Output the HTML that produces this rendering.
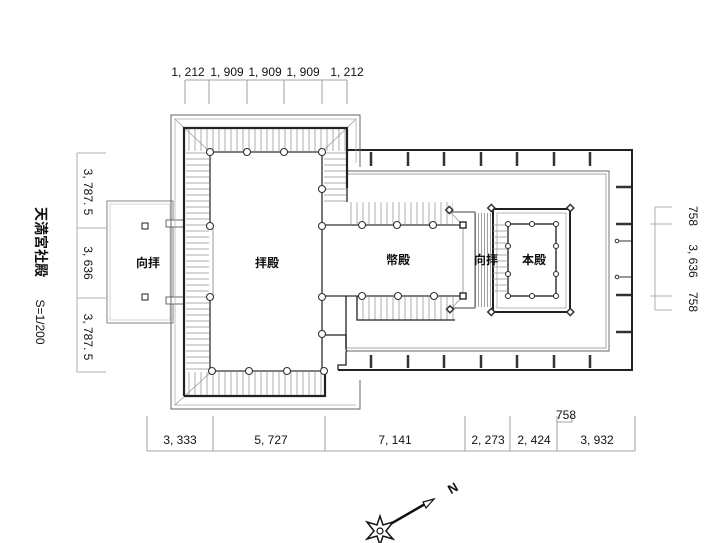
<!DOCTYPE html>
<html><head><meta charset="utf-8"><style>
html,body{margin:0;padding:0;background:#fff;}
svg{display:block;font-family:"Liberation Sans","Noto Sans CJK JP",sans-serif;}
</style></head><body>
<svg width="720" height="543" viewBox="0 0 720 543" xmlns="http://www.w3.org/2000/svg">
<defs>
<pattern id="hv" width="6" height="10" patternUnits="userSpaceOnUse"><line x1="3" y1="0" x2="3" y2="10" stroke="#999" stroke-width="0.8"/></pattern>
<pattern id="hh" width="10" height="6" patternUnits="userSpaceOnUse"><line x1="0" y1="3" x2="10" y2="3" stroke="#999" stroke-width="0.8"/></pattern>
<pattern id="hv2" width="3" height="10" patternUnits="userSpaceOnUse"><line x1="1.5" y1="0" x2="1.5" y2="10" stroke="#777" stroke-width="0.7"/></pattern>
</defs>
<rect width="720" height="543" fill="#fff"/>

<!-- top dimensions -->
<g stroke="#888" stroke-width="0.8" fill="none">
<line x1="185" y1="80" x2="347" y2="80"/>
<line x1="185" y1="80" x2="185" y2="104"/><line x1="209" y1="80" x2="209" y2="104"/>
<line x1="247" y1="80" x2="247" y2="104"/><line x1="284" y1="80" x2="284" y2="104"/>
<line x1="322" y1="80" x2="322" y2="104"/><line x1="347" y1="80" x2="347" y2="104"/>
</g>
<g font-size="12" fill="#111" text-anchor="middle" font-family="'Liberation Sans Narrow','Liberation Sans',sans-serif">
<text x="188" y="76">1, 212</text><text x="227" y="76">1, 909</text><text x="265" y="76">1, 909</text><text x="303" y="76">1, 909</text><text x="347" y="76">1, 212</text>
</g>

<!-- left dims -->
<g stroke="#999" stroke-width="0.8" fill="none">
<line x1="77" y1="153" x2="77" y2="372"/>
<line x1="77" y1="153" x2="106" y2="153"/><line x1="77" y1="228" x2="106" y2="228"/>
<line x1="77" y1="298" x2="106" y2="298"/><line x1="77" y1="372" x2="106" y2="372"/>
</g>
<g font-size="12" fill="#111" text-anchor="middle">
<text transform="translate(84,192) rotate(90)">3, 787. 5</text>
<text transform="translate(84,263) rotate(90)">3, 636</text>
<text transform="translate(84,337) rotate(90)">3, 787. 5</text>
<text transform="translate(36,242) rotate(90)" font-size="14" font-weight="bold">天満宮社殿</text>
<text transform="translate(36,322) rotate(90)" font-size="12">S=1/200</text>
</g>

<!-- right dims -->
<g stroke="#999" stroke-width="0.8" fill="none">
<line x1="655" y1="207" x2="655" y2="310"/>
<line x1="655" y1="207" x2="672" y2="207"/><line x1="650" y1="224" x2="672" y2="224"/>
<line x1="650" y1="296" x2="672" y2="296"/><line x1="655" y1="310" x2="672" y2="310"/>
</g>
<g font-size="12" fill="#111" text-anchor="middle">
<text transform="translate(689,216) rotate(90)">758</text>
<text transform="translate(689,261) rotate(90)">3, 636</text>
<text transform="translate(689,302) rotate(90)">758</text>
</g>

<!-- bottom dims -->
<g stroke="#888" stroke-width="0.8" fill="none">
<line x1="147" y1="451" x2="635" y2="451"/>
<line x1="147" y1="416" x2="147" y2="451"/><line x1="213" y1="416" x2="213" y2="451"/>
<line x1="325" y1="416" x2="325" y2="451"/><line x1="465" y1="416" x2="465" y2="451"/>
<line x1="510" y1="416" x2="510" y2="451"/><line x1="557" y1="416" x2="557" y2="451"/>
<line x1="635" y1="416" x2="635" y2="451"/>
<polyline points="557,422 572,422 572,416"/>
</g>
<g font-size="12" fill="#111" text-anchor="middle">
<text x="180" y="444">3, 333</text><text x="271" y="444">5, 727</text><text x="395" y="444">7, 141</text>
<text x="488" y="444">2, 273</text><text x="534" y="444">2, 424</text><text x="597" y="444">3, 932</text>
<text x="566" y="419">758</text>
</g>

<!-- 向拝 left -->
<rect x="107" y="201" width="66" height="122" fill="none" stroke="#777" stroke-width="0.9"/>
<rect x="110" y="204" width="60" height="116" fill="none" stroke="#bbb" stroke-width="0.6"/>
<rect x="142" y="223" width="6" height="6" fill="none" stroke="#222" stroke-width="1"/>
<rect x="142" y="294" width="6" height="6" fill="none" stroke="#222" stroke-width="1"/>
<rect x="166" y="220" width="18" height="7" fill="#fff" stroke="#444" stroke-width="0.8"/>
<rect x="166" y="297" width="18" height="7" fill="#fff" stroke="#444" stroke-width="0.8"/>

<!-- outer enclosure -->
<g fill="none">
<polyline points="347,150 632,150 632,370 338,370" stroke="#222" stroke-width="2"/>
<polyline points="347,171 609,171 609,351 346,351" stroke="#666" stroke-width="0.9"/>
<polyline points="347,174 606,174 606,348 346,348" stroke="#888" stroke-width="0.7"/>
<polyline points="347,350 346,352 346,365 338,365 338,370" stroke="#222" stroke-width="1.3"/>
</g>
<g stroke="#333" stroke-width="2.5">
<line x1="371" y1="152" x2="371" y2="166"/><line x1="408" y1="152" x2="408" y2="166"/><line x1="444" y1="152" x2="444" y2="166"/>
<line x1="481" y1="152" x2="481" y2="166"/><line x1="517" y1="152" x2="517" y2="166"/><line x1="554" y1="152" x2="554" y2="166"/><line x1="590" y1="152" x2="590" y2="166"/>
<line x1="371" y1="355" x2="371" y2="368"/><line x1="408" y1="355" x2="408" y2="368"/><line x1="444" y1="355" x2="444" y2="368"/>
<line x1="481" y1="355" x2="481" y2="368"/><line x1="517" y1="355" x2="517" y2="368"/><line x1="554" y1="355" x2="554" y2="368"/><line x1="590" y1="355" x2="590" y2="368"/>
<line x1="616" y1="187" x2="631" y2="187"/><line x1="616" y1="224" x2="631" y2="224"/><line x1="616" y1="295" x2="631" y2="295"/><line x1="616" y1="332" x2="631" y2="332"/>
</g>
<g stroke="#333" stroke-width="1" fill="#fff">
<line x1="617" y1="241" x2="631" y2="241"/><circle cx="617" cy="241" r="1.8"/>
<line x1="617" y1="277" x2="631" y2="277"/><circle cx="617" cy="277" r="1.8"/>
</g>

<!-- 拝殿 outer roof -->
<polyline points="360,167 360,115 171,115 171,409 360,409 360,380" fill="none" stroke="#666" stroke-width="1"/>
<polyline points="356,163 356,119 175,119 175,405 356,405" fill="none" stroke="#aaa" stroke-width="0.7"/>
<rect x="185" y="129" width="161" height="22" fill="url(#hv)"/>
<rect x="185" y="372" width="138" height="24" fill="url(#hv)"/>
<rect x="186" y="152" width="23" height="218" fill="url(#hh)"/>
<rect x="324" y="152" width="22" height="50" fill="url(#hh)"/>
<rect x="348" y="202" width="105" height="22" fill="url(#hv)"/>
<rect x="358" y="297" width="97" height="23" fill="url(#hv)"/>
<g stroke="#888" stroke-width="0.6">
<line x1="175" y1="119" x2="210" y2="152"/><line x1="356" y1="119" x2="322" y2="152"/>
<line x1="175" y1="405" x2="212" y2="371"/>
<line x1="450" y1="212" x2="463" y2="225"/><line x1="450" y1="310" x2="463" y2="296"/>
</g>
<g fill="none" stroke="#222" stroke-width="2.2">
<polyline points="184,396 184,128 347,128 347,188"/>
<polyline points="184,396 325,396 325,371"/>
</g>
<g fill="none" stroke="#555" stroke-width="1.6">
<polyline points="210,152 322,152"/><line x1="210" y1="152" x2="210" y2="226"/><line x1="210" y1="297" x2="210" y2="371"/>
<line x1="212" y1="371" x2="324" y2="371"/><line x1="322" y1="152" x2="322" y2="371"/>
<line x1="213" y1="226" x2="213" y2="297" stroke-width="0.6"/>
<line x1="322" y1="225" x2="463" y2="225"/><line x1="322" y1="296" x2="463" y2="296"/>
</g>
<g fill="none" stroke="#222" stroke-width="1.3">
<polyline points="357,296 357,320 455,320"/>
<polyline points="346,348 346,335 325,335"/>
<line x1="346" y1="296" x2="346" y2="350"/>
<line x1="347" y1="188" x2="347" y2="202"/>
</g>
<!-- honden & kohai -->
<rect x="475" y="213" width="18" height="94" fill="url(#hv2)"/>
<rect x="493" y="209" width="77" height="103" fill="none" stroke="#222" stroke-width="2"/>
<rect x="497" y="213" width="69" height="95" fill="none" stroke="#888" stroke-width="0.6"/>
<rect x="508" y="224" width="48" height="72" fill="none" stroke="#444" stroke-width="1.6"/>
<rect x="493" y="224" width="15" height="72" fill="url(#hh)"/>
<polyline points="450,212 475,212 475,308 450,308" fill="none" stroke="#444" stroke-width="0.9"/>
<line x1="463" y1="225" x2="463" y2="296" stroke="#777" stroke-width="0.7"/>
<g stroke="#333" stroke-width="1.5" fill="#fff">
<rect x="460" y="222" width="6" height="6"/><rect x="460" y="293" width="6" height="6"/>
<rect x="447" y="208" width="5" height="5" transform="rotate(45 450 210)"/>
<rect x="447" y="307" width="5" height="5" transform="rotate(45 450 310)"/>
<rect x="489" y="206" width="5" height="5" transform="rotate(45 492 208)"/>
<rect x="568" y="206" width="5" height="5" transform="rotate(45 571 208)"/>
<rect x="489" y="310" width="5" height="5" transform="rotate(45 492 312)"/>
<rect x="568" y="310" width="5" height="5" transform="rotate(45 571 312)"/>
</g>
<g fill="#fff" stroke="#333" stroke-width="1.1">
<circle cx="210" cy="152" r="3.5"/><circle cx="247" cy="152" r="3.5"/><circle cx="284" cy="152" r="3.5"/><circle cx="322" cy="152" r="3.5"/>
<circle cx="322" cy="189" r="3.5"/><circle cx="322" cy="226" r="3.5"/><circle cx="322" cy="297" r="3.5"/><circle cx="322" cy="334" r="3.5"/>
<circle cx="210" cy="226" r="3.5"/><circle cx="210" cy="297" r="3.5"/>
<circle cx="212" cy="371" r="3.5"/><circle cx="249" cy="371" r="3.5"/><circle cx="287" cy="371" r="3.5"/><circle cx="324" cy="371" r="3.5"/>
<circle cx="362" cy="225" r="3.5"/><circle cx="397" cy="225" r="3.5"/><circle cx="433" cy="225" r="3.5"/>
<circle cx="362" cy="296" r="3.5"/><circle cx="398" cy="296" r="3.5"/><circle cx="434" cy="296" r="3.5"/>
<circle cx="508" cy="224" r="2.5"/><circle cx="532" cy="224" r="2.5"/><circle cx="556" cy="224" r="2.5"/>
<circle cx="508" cy="246" r="2.5"/><circle cx="556" cy="246" r="2.5"/><circle cx="508" cy="274" r="2.5"/><circle cx="556" cy="274" r="2.5"/>
<circle cx="508" cy="296" r="2.5"/><circle cx="532" cy="296" r="2.5"/><circle cx="556" cy="296" r="2.5"/>
</g>
<g font-size="12" font-weight="bold" fill="#111" text-anchor="middle">
<text x="148" y="267">向拝</text><text x="267" y="267">拝殿</text><text x="398" y="264">幣殿</text>
<text x="486" y="264">向拝</text><text x="534" y="264">本殿</text>
</g>
<!-- compass -->
<g stroke="#111" fill="none">
<line x1="380" y1="530" x2="432" y2="500" stroke-width="2.5"/>
<polygon points="434,499 423,502 426,508" fill="#fff" stroke-width="1.2"/>
<polygon points="380,516 383,525 393,522 386,531 393,539 383,536 380,545 377,536 367,539 374,531 367,522 377,525" fill="#fff" stroke-width="1.5"/>
<circle cx="380" cy="531" r="3" stroke-width="1.2"/>
</g>
<text transform="translate(455,492) rotate(-30)" font-size="13" font-weight="bold" fill="#111" text-anchor="middle">N</text>
</svg>
</body></html>
